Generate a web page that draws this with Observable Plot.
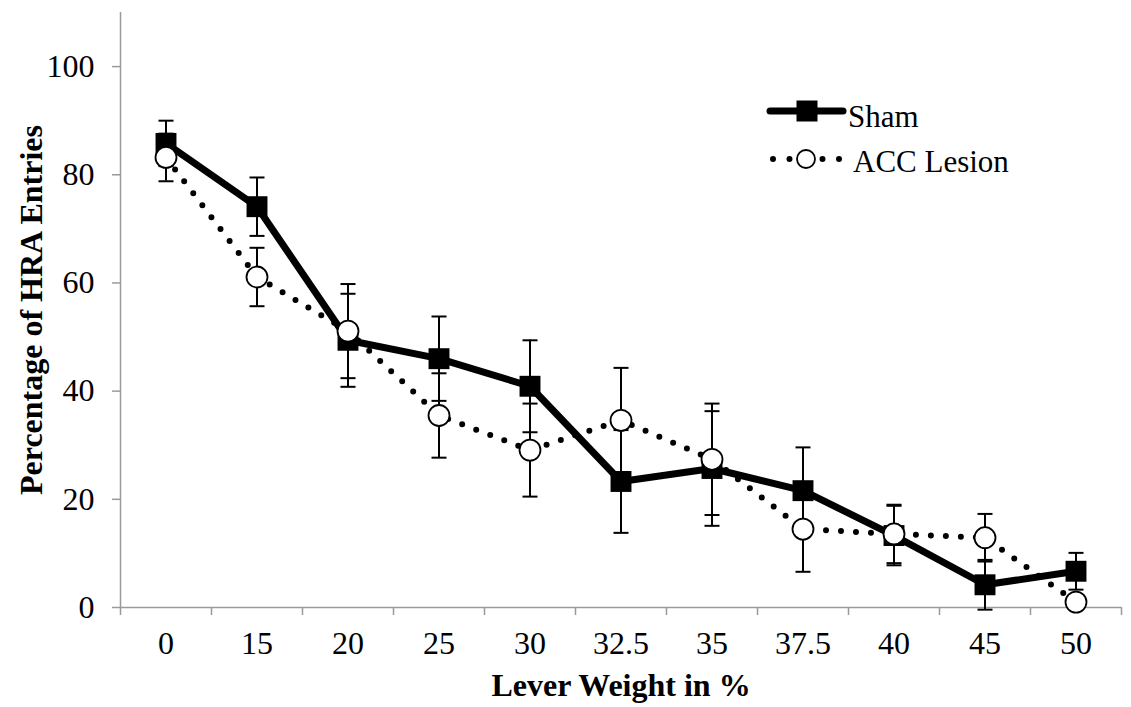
<!DOCTYPE html>
<html>
<head>
<meta charset="utf-8">
<script src="https://cdn.jsdelivr.net/npm/d3@7"></script>
<script src="https://cdn.jsdelivr.net/npm/@observablehq/plot@0.6"></script>
<style>
  html, body { margin: 0; padding: 0; background: #fff; }
  #wrap { position: relative; width: 1131px; height: 707px; }
  #legend { position: absolute; left: 760px; top: 85px; }
  #legend text { font-family: "Liberation Serif", "Times New Roman", serif; font-size: 31px; fill: #000; }
</style>
</head>
<body>
<div id="wrap">
  <div id="chart"></div>
  <svg id="legend" width="280" height="100">
    <line x1="10" x2="83" y1="26" y2="26" stroke="#000" stroke-width="7" stroke-linecap="round"></line>
    <rect x="36.5" y="15.5" width="21" height="21" fill="#000"></rect>
    <text x="88" y="42">Sham</text>
    <line x1="13" x2="80" y1="74" y2="74" stroke="#000" stroke-width="6" stroke-linecap="round" stroke-dasharray="0 16.5"></line>
    <circle cx="46" cy="74" r="9" fill="#fff" stroke="#000" stroke-width="1.8"></circle>
    <text x="93" y="87">ACC Lesion</text>
  </svg>
</div>
<script>
// Lever weight conditions (x categories)
const leverWeights = ["0", "15", "20", "25", "30", "32.5", "35", "37.5", "40", "45", "50"];

// Sham group: mean % HRA entries and SEM
const shamMean = [85.8, 74.1, 49.4, 46.0, 40.9, 23.3, 25.7, 21.6, 13.3, 4.2, 6.7];
const shamSem  = [4.2, 5.4, 8.6, 7.8, 8.5, 9.5, 10.6, 8.0, 5.5, 4.6, 3.4];

// ACC lesion group: mean % HRA entries and SEM
const accMean = [83.2, 61.1, 51.1, 35.5, 29.1, 34.6, 27.4, 14.5, 13.6, 12.9, 1.0];
const accSem  = [4.4, 5.4, 8.7, 7.8, 8.6, 9.7, 10.3, 7.9, 5.4, 4.4, 1.2];

const yTicks = [0, 20, 40, 60, 80, 100];

const sham = leverWeights.map((w, i) => ({i, w, v: shamMean[i], e: shamSem[i]}));
const acc = leverWeights.map((w, i) => ({i, w, v: accMean[i], e: accSem[i]}));

// horizontal cap used at the ends of each error bar
const cap = {
  draw(ctx, size) {
    const h = Math.sqrt(size / Math.PI);
    ctx.moveTo(-h, 0);
    ctx.lineTo(h, 0);
  }
};

const axisGrey = "#9a9a9a";
const idx = d3.range(leverWeights.length);

const errorBars = (data) => [
  Plot.ruleX(data, {x: "i", y1: d => d.v - d.e, y2: d => d.v + d.e, stroke: "#000", strokeWidth: 2}),
  Plot.dot(data, {x: "i", y: d => d.v + d.e, symbol: cap, r: 7.5, fill: "none", stroke: "#000", strokeWidth: 2}),
  Plot.dot(data, {x: "i", y: d => d.v - d.e, symbol: cap, r: 7.5, fill: "none", stroke: "#000", strokeWidth: 2})
];

const chart = Plot.plot({
  width: 1131,
  height: 707,
  marginLeft: 120,
  marginRight: 10,
  marginTop: 12,
  marginBottom: 100,
  style: {fontFamily: "'Liberation Serif', 'Times New Roman', serif", fontSize: "32px", color: "#000", background: "#fff"},
  x: {type: "linear", domain: [-0.5, leverWeights.length - 0.5]},
  y: {domain: [0, 110]},
  marks: [
    // axis lines
    Plot.ruleX([-0.5], {stroke: axisGrey, strokeWidth: 1.5}),
    Plot.ruleY([0], {stroke: axisGrey, strokeWidth: 1.5}),
    // category boundary ticks and category labels
    Plot.axisX(d3.range(-0.5, leverWeights.length, 1), {tickSize: 8, stroke: axisGrey, strokeWidth: 1.5, tickFormat: () => "", label: null}),
    Plot.axisX(idx, {tickSize: 0, tickPadding: 24, tickFormat: i => leverWeights[i], label: null, fill: "#000", fontSize: 32}),
    Plot.axisY(yTicks, {tickSize: 8, tickPadding: 18, stroke: axisGrey, strokeWidth: 1.5, label: null, fill: "#000", fontSize: 32}),
    // axis titles
    Plot.text(["Lever Weight in %"], {frameAnchor: "bottom", dy: 88, fontWeight: "bold", fontSize: 32, fill: "#000"}),
    Plot.text(["Percentage of HRA Entries"], {frameAnchor: "left", textAnchor: "middle", rotate: -90, dx: -89, dy: 0, fontWeight: "bold", fontSize: 32, fill: "#000"}),
    // Sham series
    ...errorBars(sham),
    Plot.line(sham, {x: "i", y: "v", stroke: "#000", strokeWidth: 7, strokeLinejoin: "round"}),
    Plot.dot(sham, {x: "i", y: "v", symbol: "square", r: 11.8, fill: "#000", stroke: "none"}),
    // ACC lesion series
    ...errorBars(acc),
    Plot.line(acc, {x: "i", y: "v", stroke: "#000", strokeWidth: 6, strokeDasharray: "0 15", strokeLinecap: "round"}),
    Plot.dot(acc, {x: "i", y: "v", symbol: "circle", r: 10.5, fill: "#fff", stroke: "#000", strokeWidth: 1.8})
  ]
});

document.getElementById("chart").appendChild(chart);
</script>
</body>
</html>
